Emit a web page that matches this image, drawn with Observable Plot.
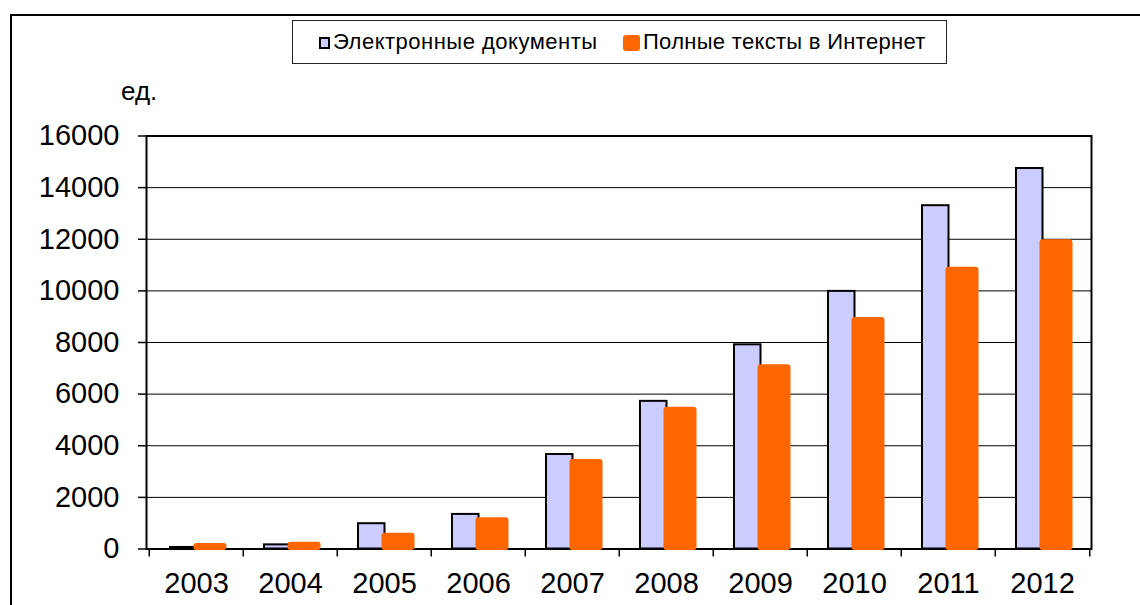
<!DOCTYPE html>
<html>
<head>
<meta charset="utf-8">
<script src="https://cdn.jsdelivr.net/npm/d3@7"></script>
<script src="https://cdn.jsdelivr.net/npm/@observablehq/plot@0.6"></script>
<style>
  html, body { margin: 0; padding: 0; background: #fff; overflow: hidden; }
  #wrap { position: relative; width: 1140px; height: 605px; font-family: "Liberation Sans", Arial, sans-serif; color: #000; }
  #outer { position: absolute; left: 10px; top: 14px; width: 1300px; height: 800px; border-left: 2px solid #000; border-top: 2px solid #000; box-sizing: border-box; }
  #chart { position: absolute; left: 0; top: 0; }
  .lbl { position: absolute; white-space: nowrap; }
</style>
</head>
<body>
<div id="wrap">
  <div id="outer"></div>
  <div id="chart"></div>
  <div class="lbl" id="unit" style="left:121px; top:78px; font-size:26px; line-height:26px;"></div>
  <div id="legend" style="position:absolute; left:292px; top:20px; width:655px; height:44px; border:1.5px solid #222; box-sizing:border-box; background:#fff;"></div>
</div>
<script>
const years = ["2003", "2004", "2005", "2006", "2007", "2008", "2009", "2010", "2011", "2012"];
const docs = [60, 160, 980, 1340, 3660, 5720, 7910, 9980, 13300, 14740];
const fullTexts = [210, 265, 610, 1210, 3470, 5490, 7140, 8970, 10920, 11980];
const yTicks = [0, 2000, 4000, 6000, 8000, 10000, 12000, 14000, 16000];
const seriesNames = ["Электронные документы", "Полные тексты в  Интернет"];
const unitLabel = "ед.";
const colors = ["#CCCCFF", "#FF6600"];

const data = years.map((y, i) => ({year: y, docs: docs[i], full: fullTexts[i]}));

const W = 1140, H = 605;
const mL = 146, mR = 49, mT = 135.5, mB = 56.5;
const bw = (W - mL - mR) / years.length;

const chart = Plot.plot({
  width: W,
  height: H,
  marginLeft: mL,
  marginRight: mR,
  marginTop: mT,
  marginBottom: mB,
  style: {background: "transparent", fontFamily: "'Liberation Sans', Arial, sans-serif", color: "#000", overflow: "visible"},
  x: {type: "band", domain: years, padding: 0, label: null},
  y: {domain: [0, 16000], label: null},
  marks: [
    Plot.gridY(yTicks, {stroke: "#000", strokeOpacity: 1, strokeWidth: 1}),
    Plot.frame({stroke: "#000", strokeWidth: 2}),
    Plot.axisY({ticks: yTicks, tickSize: 8, tickPadding: 19, fontSize: 29, tickFormat: d => String(d), stroke: "#000", strokeWidth: 1.5, fill: "#000", label: null}),
    Plot.axisX({tickSize: 0, tickPadding: 23, fontSize: 29, fill: "#000", label: null}),
    Plot.axisX({tickSize: 8, dx: -bw / 2, tickFormat: () => "", stroke: "#000", strokeWidth: 1.5, label: null}),
    Plot.axisX({ticks: [years[years.length - 1]], tickSize: 8, dx: bw / 2, tickFormat: () => "", stroke: "#000", strokeWidth: 1.5, label: null}),
    Plot.barY(data, {x: "year", y: "docs", fill: colors[0], stroke: "#000", strokeWidth: 2, insetLeft: 21, insetRight: bw - 48}),
    Plot.barY(data, {x: "year", y1: -60, y2: "full", fill: colors[1], rx: 3, insetLeft: 44.5, insetRight: 16.5})
  ]
});
document.getElementById("chart").appendChild(chart);
document.getElementById("unit").textContent = unitLabel;

const legend = document.getElementById("legend");
legend.innerHTML = `
  <div style="position:absolute; left:26px; top:16px; width:11px; height:12px; background:${colors[0]}; border:2px solid #000; box-sizing:border-box;"></div>
  <div class="lbl" style="left:40px; top:10px; font-size:22px; line-height:22px; letter-spacing:0.5px;">${seriesNames[0]}</div>
  <div style="position:absolute; left:330px; top:14px; width:17px; height:16px; background:${colors[1]}; border-radius:3px;"></div>
  <div class="lbl" style="left:350px; top:10px; font-size:22px; line-height:22px; letter-spacing:0.3px;">${seriesNames[1]}</div>
`;
</script>
</body>
</html>
